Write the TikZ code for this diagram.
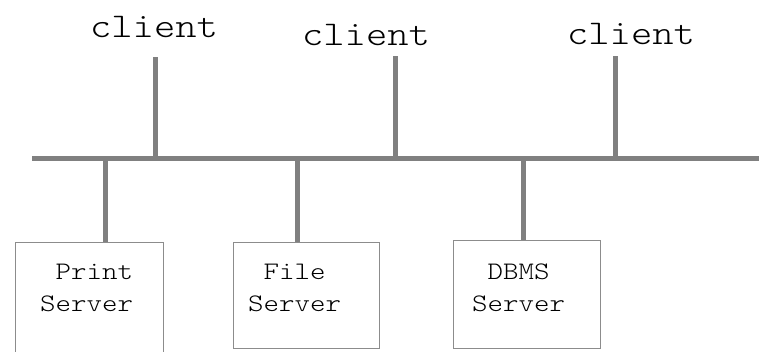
\documentclass[tikz,border=0pt]{standalone}
\usepackage{fontspec}
\newfontfamily\crfont{lmmonolt10-regular}[Extension=.otf,FakeStretch=1.17]
\usetikzlibrary{positioning}
\begin{document}
\begin{tikzpicture}[x=1pt,y=-1pt,
  wire/.style={line width=5pt,draw=black!50},
  clnt/.style={font=\crfont\fontsize{34.7}{40}\selectfont,text=black,anchor=base,inner sep=0},
  srvbox/.style={draw=black!45,line width=1.3pt,minimum width=148pt,minimum height=106pt,anchor=north west,inner sep=0},
  srvtxt/.style={font=\crfont\fontsize{25.2}{32}\selectfont,text=black,align=left,inner sep=0}]
  \clip (0,0) rectangle (759,351);
  % bus
  \coordinate (bl) at (32,158);
  \coordinate (br) at (759,158);
  \draw[wire](bl)--(br);
  % clients
  \node[clnt] (cl1) at (154,37){client};
  \node[clnt] (cl2) at (366,45){client};
  \node[clnt] (cl3) at (631,44){client};
  \coordinate (t1) at (155,57);
  \coordinate (t2) at (395,56);
  \coordinate (t3) at (615,56);
  \foreach \t in {t1,t2,t3}
    \draw[wire](\t)--(\t |- bl);
  % servers
  \node[srvbox,minimum height=120pt] (ps) at (15,242){};
  \node[srvbox,minimum width=146pt] (fs) at (233,242){};
  \node[srvbox,minimum width=147pt,minimum height=108pt] (ds) at (453,240){};
  \node[srvtxt,below right=21.5pt and 25pt of ps.north west] (pst){\hphantom{P}Print\\Server};
  \node[srvtxt,below right=21.5pt and 15pt of fs.north west] (fst){\hphantom{P}File\\Server};
  \node[srvtxt,below right=23.5pt and 19pt of ds.north west] (dst){\hphantom{P}DBMS\\Server};
  \coordinate (p1) at (105,158);
  \coordinate (p2) at (297,158);
  \coordinate (p3) at (523,158);
  \draw[wire](p1)--(p1 |- ps.north);
  \draw[wire](p2)--(p2 |- fs.north);
  \draw[wire](p3)--(p3 |- ds.north);
\end{tikzpicture}
\end{document}
